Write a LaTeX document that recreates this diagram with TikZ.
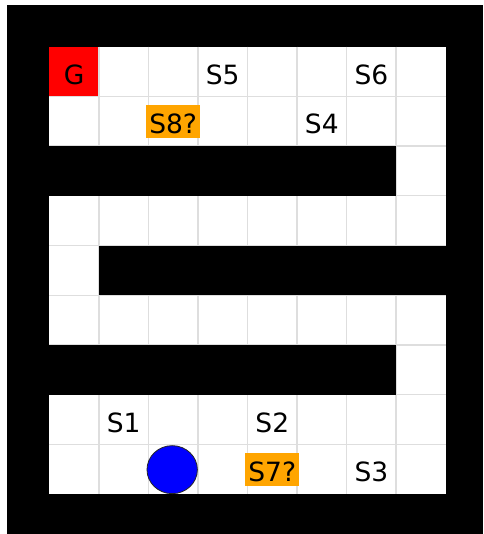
\documentclass[tikz,border=0pt]{standalone}
\usepackage{fontspec}
\setmainfont{DejaVu Sans}
\usetikzlibrary{shapes.geometric}
\definecolor{gridgray}{RGB}{222,222,222}
\definecolor{mplorange}{RGB}{255,165,0}
\definecolor{mplred}{RGB}{255,0,0}
\definecolor{mplblue}{RGB}{0,0,255}
\tikzset{
  lbl/.style={font=\fontsize{26.5}{30}\selectfont, text height=25.3pt, text depth=0pt, inner xsep=3.2pt, inner ysep=3.7pt, anchor=center},
  hint/.style={lbl, fill=mplorange},
  wall/.style={fill=black},
  gridline/.style={draw=gridgray, line width=1.4pt},
  agent/.style={ellipse, fill=mplblue, draw=black!85, line width=0.8pt, minimum width=50.4pt, minimum height=48pt, inner sep=0pt}
}
\begin{document}
\begin{tikzpicture}
\useasboundingbox (0,0) rectangle (483pt,-534pt);
\fill[white] (0,0) rectangle (483pt,-534pt);
\fill[black] (7pt,-5pt) rectangle (483pt,-534pt);
\begin{scope}[shift={(49.3pt,-46.7pt)}, x=49.55pt, y=-49.7pt]
  % white playing field
  \fill[white] (0,0) rectangle (8,9);
  % goal cell
  \fill[mplred] (0,0) rectangle (1,1);
  % grid
  \foreach \c in {1,...,7} \draw[gridline] (\c,0) -- (\c,9);
  \foreach \r in {1,...,8} \draw[gridline] (0,\r) -- (8,\r);
  % walls
  \fill[wall] (-0.86,2) rectangle (7,3);
  \fill[wall] (1,4) rectangle (8.76,5);
  \fill[wall] (-0.86,6) rectangle (7,7);
  % labels
  \node[lbl] (g) at (0.5,0.5) {G};
  \node[lbl] (s5) at (3.5,0.5) {S5};
  \node[lbl] (s6) at (6.5,0.5) {S6};
  \node[hint] (s8) at (2.5,1.5) {S8?};
  \node[lbl] (s4) at (5.5,1.5) {S4};
  \node[lbl] (s1) at (1.5,7.5) {S1};
  \node[lbl] (s2) at (4.5,7.5) {S2};
  \node[hint] (s7) at (4.5,8.5) {S7?};
  \node[lbl] (s3) at (6.5,8.5) {S3};
  \node[agent] (agent) at (2.48,8.51) {};
\end{scope}
\end{tikzpicture}
\end{document}
